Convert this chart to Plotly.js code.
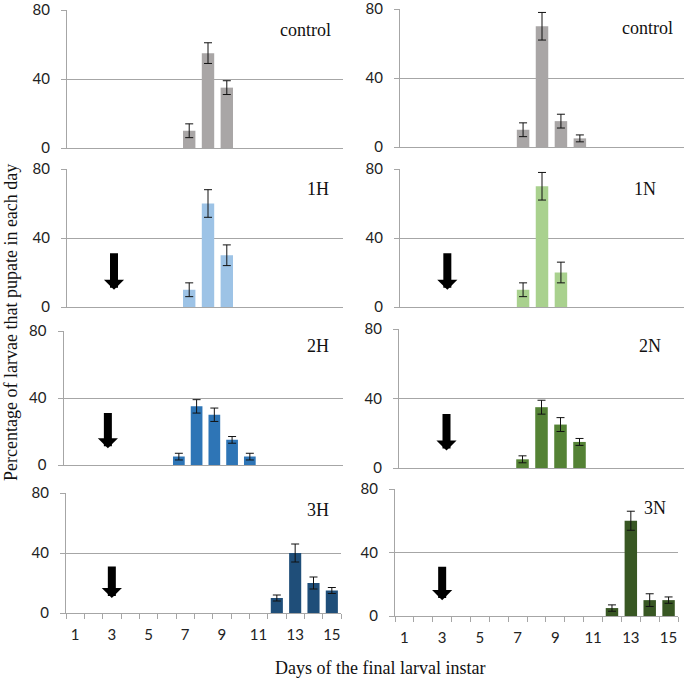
<!DOCTYPE html>
<html>
<head>
<meta charset="utf-8">
<script src="https://cdn.plot.ly/plotly-3.0.1.min.js"></script>
<style>html,body{margin:0;padding:0;background:#fff;}#chart{width:688px;height:680px;}</style>
</head>
<body>
<div id="chart"></div>
<script>
// ---- data (percent of larvae pupating on each day, with error) ----
const ctrlHDays = [7, 8, 9];
const ctrlHPct  = [10, 55, 35];
const ctrlHErr  = [4, 6, 4];

const h1Days = [7, 8, 9];
const h1Pct  = [10, 60, 30];
const h1Err  = [4, 8, 6];

const h2Days = [7, 8, 9, 10, 11];
const h2Pct  = [5, 35, 30, 15, 5];
const h2Err  = [2, 4, 4, 2, 2];

const h3Days = [12, 13, 14, 15];
const h3Pct  = [10, 40, 20, 15];
const h3Err  = [2, 6, 4, 2];

const ctrlNDays = [7, 8, 9, 10];
const ctrlNPct  = [10, 70, 15, 5];
const ctrlNErr  = [4, 8, 4, 2];

const n1Days = [7, 8, 9];
const n1Pct  = [10, 70, 20];
const n1Err  = [4, 8, 6];

const n2Days = [7, 8, 9, 10];
const n2Pct  = [5, 35, 25, 15];
const n2Err  = [2, 4, 4, 2];

const n3Days = [12, 13, 14, 15];
const n3Pct  = [5, 60, 10, 10];
const n3Err  = [2, 6, 4, 2];

const panelLabels = ['control', '1H', '2H', '3H', 'control', '1N', '2N', '3N'];
const dayTickVals = [1, 3, 5, 7, 9, 11, 13, 15];
const dayTickText = ['1', '3', '5', '7', '9', '11', '13', '15'];
const yTickVals = [0, 40, 80];
const yTickText = ['0', '40', '80'];
const arrowDay = 3;
const arrowTop = 32;
const arrowTip = 10;

const yTitle = 'Percentage of larvae that pupate in each day';
const xTitle = 'Days of the final larval instar';

// ---- layout / styling ----
const W = 688, H = 680;
const px = p => p / W;
const py = p => 1 - p / H;

const series = [
  {d: ctrlHDays, v: ctrlHPct, e: ctrlHErr, c: '#a9a6a6'},
  {d: h1Days, v: h1Pct, e: h1Err, c: '#9dc3e6'},
  {d: h2Days, v: h2Pct, e: h2Err, c: '#2e75b6'},
  {d: h3Days, v: h3Pct, e: h3Err, c: '#1f4e79'},
  {d: ctrlNDays, v: ctrlNPct, e: ctrlNErr, c: '#a9a6a6'},
  {d: n1Days, v: n1Pct, e: n1Err, c: '#a9d18e'},
  {d: n2Days, v: n2Pct, e: n2Err, c: '#548235'},
  {d: n3Days, v: n3Pct, e: n3Err, c: '#385723'}
];

// pixel boxes of each panel [left, right, top(80), bottom(0)], x range end, label pos, arrow?
const boxes = [
  {l: 67, r: 343, t: 10, b: 148, xr: 15.18, lx: 333, ly: 30, arrow: false, bottom: false},
  {l: 67, r: 343, t: 169, b: 307, xr: 15.18, lx: 331, ly: 189, arrow: true, bottom: false},
  {l: 63.5, r: 343, t: 331, b: 465, xr: 16.25, lx: 331, ly: 346, arrow: true, bottom: false},
  {l: 66, r: 341, t: 493, b: 613, xr: 15.5, lx: 331, ly: 510, arrow: true, bottom: true},
  {l: 400, r: 684, t: 9, b: 147, xr: 15.5, lx: 675, ly: 28, arrow: false, bottom: false},
  {l: 400, r: 684, t: 169, b: 307, xr: 15.5, lx: 658, ly: 189, arrow: true, bottom: false},
  {l: 399, r: 684, t: 329, b: 468, xr: 15.5, lx: 663, ly: 346, arrow: true, bottom: false},
  {l: 395, r: 678, t: 489, b: 616, xr: 15.5, lx: 668, ly: 508, arrow: true, bottom: true}
];

const gridC = '#a6a6a6';
const tickFont = {family: 'Lato, "Liberation Sans", sans-serif', size: 15, color: '#222'};
const serif = '"Liberation Serif", "Times New Roman", serif';

const data = [];
const layout = {
  width: W, height: H,
  margin: {l: 0, r: 0, t: 0, b: 0},
  paper_bgcolor: '#fff', plot_bgcolor: '#fff',
  showlegend: false,
  bargap: 0.34,
  annotations: []
};

series.forEach((s, i) => {
  const n = i + 1;
  const xa = n === 1 ? 'x' : 'x' + n;
  const ya = n === 1 ? 'y' : 'y' + n;
  const bx = boxes[i];
  data.push({
    type: 'bar', x: s.d, y: s.v, xaxis: xa, yaxis: ya,
    marker: {color: s.c},
    error_y: {type: 'data', array: s.e, visible: true, color: '#111', thickness: 1, width: 4},
    hoverinfo: 'x+y'
  });
  const xKey = n === 1 ? 'xaxis' : 'xaxis' + n;
  const yKey = n === 1 ? 'yaxis' : 'yaxis' + n;
  const xaxis = {
    domain: [px(bx.l), px(bx.r)],
    anchor: ya,
    range: [0.5, bx.xr],
    showgrid: false, zeroline: false,
    showline: true, linecolor: gridC, linewidth: 1,
    fixedrange: true
  };
  if (bx.bottom) {
    Object.assign(xaxis, {
      tickmode: 'array', tickvals: dayTickVals, ticktext: dayTickText,
      ticks: '', tickfont: tickFont, ticklabelstandoff: 8,
      minor: {tickmode: 'linear', tick0: 0.5, dtick: 1, ticks: 'outside', ticklen: 5, tickcolor: gridC, tickwidth: 1, showgrid: false}
    });
  } else {
    Object.assign(xaxis, {showticklabels: false, ticks: ''});
  }
  layout[xKey] = xaxis;
  layout[yKey] = {
    domain: [py(bx.b), py(bx.t)],
    anchor: xa,
    range: [0, 80],
    tickmode: 'array', tickvals: yTickVals, ticktext: yTickText,
    showgrid: true, gridcolor: gridC, gridwidth: 1,
    zeroline: false,
    showline: true, linecolor: gridC, linewidth: 1,
    ticks: 'outside', ticklen: 5, tickcolor: gridC,
    tickfont: tickFont, ticklabelstandoff: 8,
    ticklabeloverflow: 'allow',
    fixedrange: true
  };
  layout.annotations.push({
    xref: 'paper', yref: 'paper', x: px(bx.lx), y: py(bx.ly),
    xanchor: 'right', yanchor: 'middle', showarrow: false,
    text: panelLabels[i], font: {family: serif, size: 18, color: '#111'}
  });
  if (bx.arrow) {
    layout.annotations.push({
      xref: xa, yref: ya, axref: xa, ayref: ya,
      x: arrowDay, y: arrowTip, ax: arrowDay, ay: arrowTop,
      text: '', showarrow: true, arrowhead: 1, arrowsize: 0.42, arrowwidth: 8,
      arrowcolor: '#000', standoff: 0
    });
  }
});

layout.annotations.push({
  xref: 'paper', yref: 'paper', x: px(11), y: py(323),
  xanchor: 'center', yanchor: 'middle', showarrow: false, textangle: -90,
  text: yTitle, font: {family: serif, size: 18, color: '#111'}
});
layout.annotations.push({
  xref: 'paper', yref: 'paper', x: px(380), y: py(668),
  xanchor: 'center', yanchor: 'middle', showarrow: false,
  text: xTitle, font: {family: serif, size: 18, color: '#111'}
});

Plotly.newPlot('chart', data, layout, {displayModeBar: false, staticPlot: true});
</script>
</body>
</html>
